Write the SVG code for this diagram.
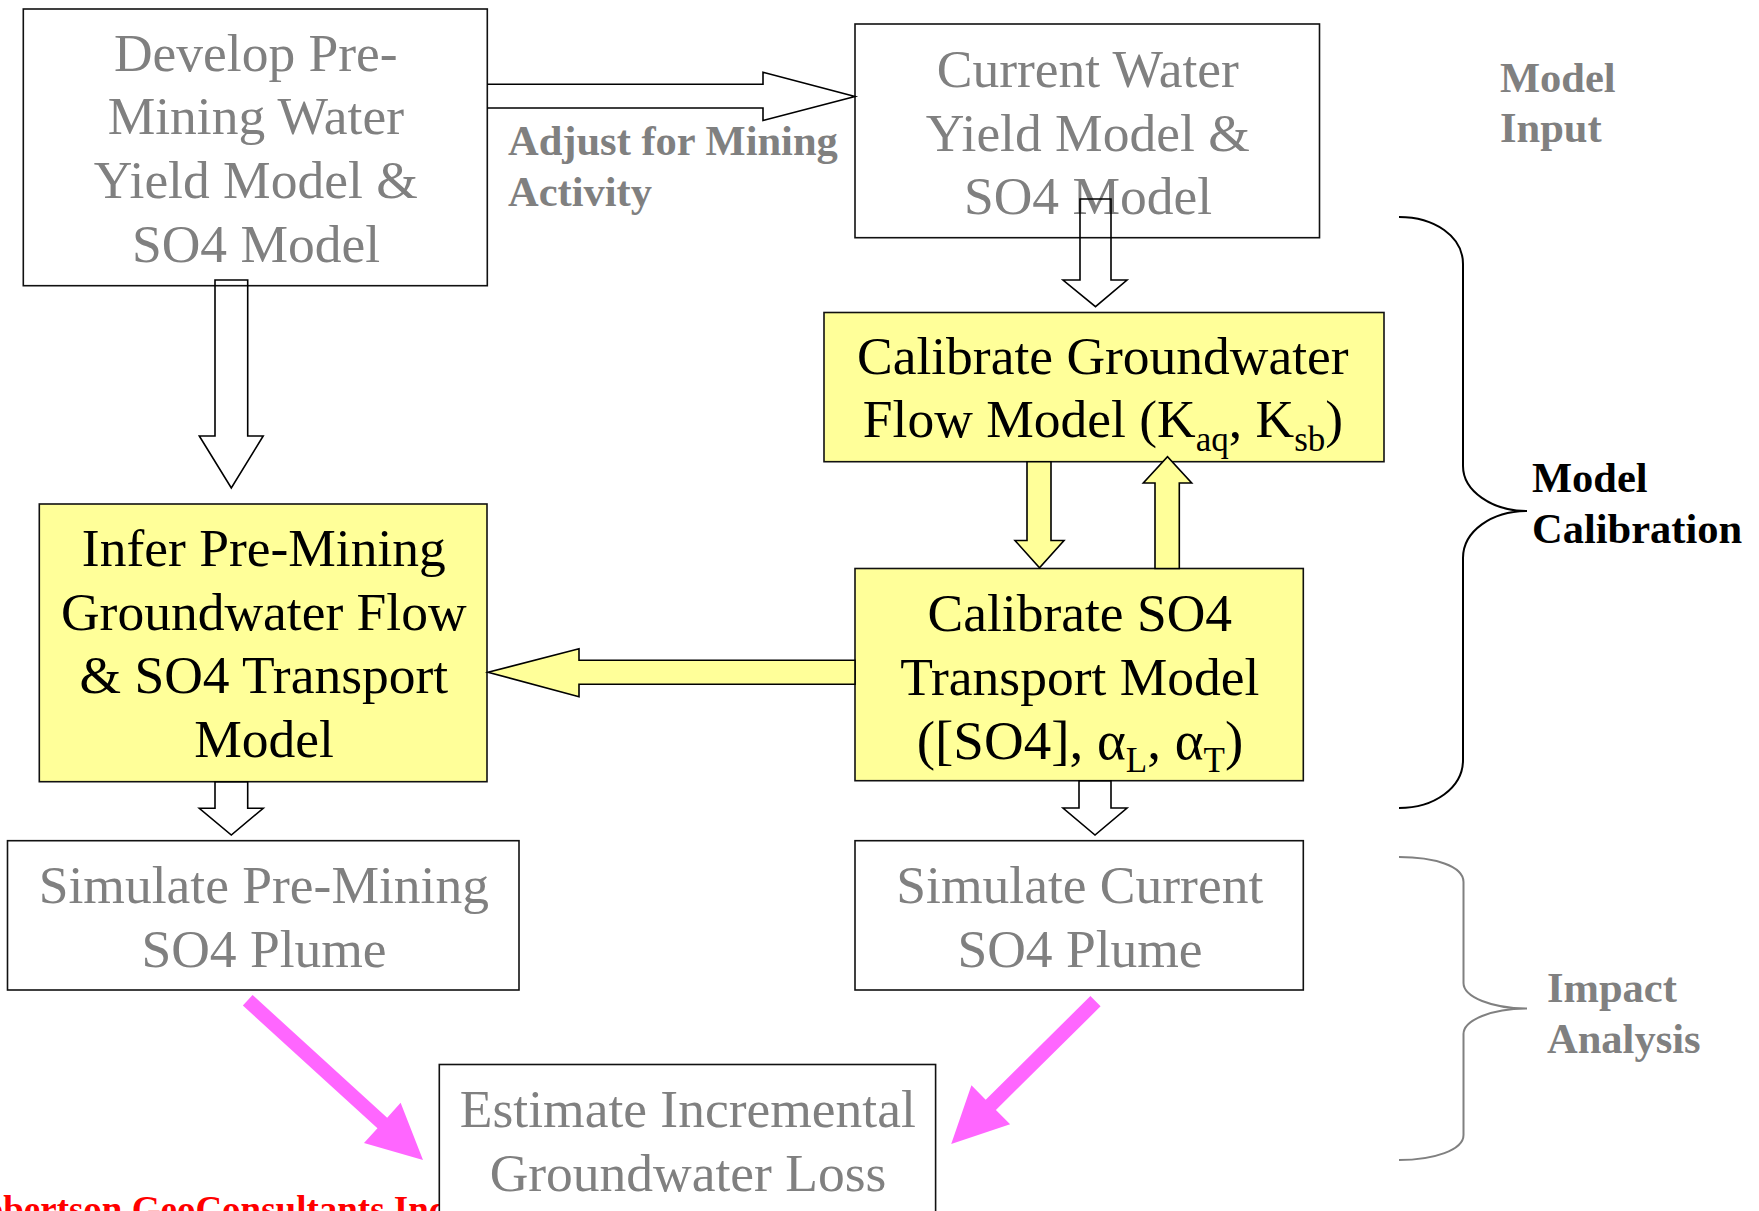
<svg xmlns="http://www.w3.org/2000/svg" width="1759" height="1211" viewBox="0 0 1759 1211">
  <style>
    .box { stroke: #111; stroke-width: 1.6; }
    .plain { fill: #ffffff; }
    .yellow { fill: #ffff99; }
    .t { font-family: "Liberation Serif", "Times New Roman", serif; font-size: 53.5px; text-anchor: middle; }
    .grey { fill: #808080; }
    .black { fill: #000000; }
    .sub { font-size: 35px; }
    .label { font-family: "Liberation Serif", "Times New Roman", serif; font-size: 42.5px; font-weight: bold; }
    .hollow { fill: none; stroke: #000; stroke-width: 1.6; stroke-linejoin: miter; }
    .fat { fill: #ffff99; stroke: #000; stroke-width: 1.6; }
    .pink { fill: #ff66ff; }
    .brace { fill: none; stroke-width: 2; }
  </style>

  <!-- company credit, partly hidden behind the bottom box -->
  <text x="-42" y="1221.5" font-family="Liberation Serif, Times New Roman, serif" font-size="37" font-weight="bold" fill="#ff0000">Robertson GeoConsultants Inc.</text>

  <!-- wrapped lines sit half a space right of the closing line -->
  <g id="node-develop">
    <rect class="box plain" x="23.3" y="9" width="464" height="276.7"/>
    <text class="t grey">
      <tspan x="262.5" y="70.7">Develop Pre-</tspan>
      <tspan x="262.5" y="134.3">Mining Water</tspan>
      <tspan x="262.5" y="198.3">Yield Model &amp;</tspan>
      <tspan x="256" y="261.7">SO4 Model</tspan>
    </text>
  </g>

  <g id="node-current">
    <rect class="box plain" x="855" y="24" width="464.5" height="213.7"/>
    <text class="t grey">
      <tspan x="1094.5" y="87">Current Water</tspan>
      <tspan x="1094.5" y="151">Yield Model &amp;</tspan>
      <tspan x="1088" y="214">SO4 Model</tspan>
    </text>
  </g>

  <g id="node-calib-flow">
    <rect class="box yellow" x="824" y="312.5" width="560" height="149.2"/>
    <text class="t black">
      <tspan x="1109.5" y="374">Calibrate Groundwater</tspan>
      <tspan x="1103" y="437.3">Flow Model (K<tspan class="sub" dy="14">aq</tspan><tspan dy="-14">, K</tspan><tspan class="sub" dy="14">sb</tspan><tspan dy="-14">)</tspan></tspan>
    </text>
  </g>

  <g id="node-infer">
    <rect class="box yellow" x="39.3" y="504" width="447.7" height="277.7"/>
    <text class="t black">
      <tspan x="270.5" y="566">Infer Pre-Mining</tspan>
      <tspan x="270.5" y="630">Groundwater Flow</tspan>
      <tspan x="270.5" y="693.3">&amp; SO4 Transport</tspan>
      <tspan x="264" y="756.7">Model</tspan>
    </text>
  </g>

  <g id="node-calib-so4">
    <rect class="box yellow" x="855" y="568.5" width="448.3" height="212.2"/>
    <text class="t black">
      <tspan x="1086.5" y="630.7">Calibrate SO4</tspan>
      <tspan x="1086.5" y="695">Transport Model</tspan>
      <tspan x="1080" y="759.3" font-size="55">([SO4], α<tspan class="sub" dy="13">L</tspan><tspan dy="-13">, α</tspan><tspan class="sub" dy="13">T</tspan><tspan dy="-13">)</tspan></tspan>
    </text>
  </g>

  <g id="node-sim-pre">
    <rect class="box plain" x="7.5" y="840.7" width="511.5" height="149.3"/>
    <text class="t grey">
      <tspan x="270.5" y="902.7">Simulate Pre-Mining</tspan>
      <tspan x="264" y="966.7">SO4 Plume</tspan>
    </text>
  </g>

  <g id="node-sim-current">
    <rect class="box plain" x="855" y="840.7" width="448.3" height="149.3"/>
    <text class="t grey">
      <tspan x="1086.5" y="902.7">Simulate Current</tspan>
      <tspan x="1080" y="966.7">SO4 Plume</tspan>
    </text>
  </g>

  <g id="node-estimate">
    <rect class="box plain" x="439.3" y="1064.5" width="496.3" height="200"/>
    <text class="t grey">
      <tspan x="694.5" y="1127">Estimate Incremental</tspan>
      <tspan x="688" y="1190.5">Groundwater Loss</tspan>
    </text>
  </g>

  <g id="connectors">
    <!-- hollow block arrows -->
    <path class="hollow" d="M487.3,84.3 H763 V72.3 L855,96.5 L763,120.5 V108 H487.3"/>
    <path class="hollow" d="M215,280 H247.7 V436 H263.2 L231.3,488 L199.3,436 H215 Z"/>
    <path class="hollow" d="M1080,199 H1111 V280 H1127 L1095.5,306.7 L1063,280 H1080 Z"/>
    <path class="hollow" d="M215,781.7 H247.7 V808.3 H263.2 L231.3,835 L199.3,808.3 H215 Z"/>
    <path class="hollow" d="M1079,780.7 H1111 V808 H1127 L1095,835 L1063,808 H1079 Z"/>

    <!-- calibration loop and hand-off -->
    <path class="fat" d="M1027,461.7 H1051 V540.5 H1064 L1039.5,567.7 L1015,540.5 H1027 Z"/>
    <path class="fat" d="M1155,568.5 V483 H1143.3 L1167.5,456.7 L1191.7,483 H1179.3 V568.5 Z"/>
    <path class="fat" d="M855,660.3 H579 V648.7 L488,672.3 L579,696.7 V684.3 H855 Z"/>

    <!-- plume comparison arrows -->
    <polygon class="pink" points="252.55,994.98 387.15,1117.63 400.62,1102.84 423,1160 363.98,1143.06 377.45,1128.27 242.85,1005.6"/>
    <polygon class="pink" points="1090.4,996.05 985.69,1099.67 971.45,1085.27 951.2,1144 1010.13,1124.37 995.89,1109.97 1100.6,1006.35"/>

    <!-- stage braces -->
    <path class="brace" stroke="#000" d="M1399,217 C1434,217 1463,236 1463,264 L1463,466 C1463,491 1492,511 1527,511 C1492,511 1463,531 1463,558 L1463,760 C1463,788 1434,808 1399,808"/>
    <path class="brace" stroke="#808080" d="M1399,857 C1434,857 1463.5,866 1463.5,882 L1463.5,983 C1463.5,997 1492,1008.5 1527,1008.5 C1492,1008.5 1463.5,1020 1463.5,1034 L1463.5,1135 C1463.5,1150 1434,1160 1399,1160"/>
  </g>

  <g id="labels">
    <text class="label grey"><tspan x="508" y="155">Adjust for Mining</tspan><tspan x="508" y="206">Activity</tspan></text>
    <text class="label grey"><tspan x="1500" y="91.5">Model</tspan><tspan x="1500" y="142">Input</tspan></text>
    <text class="label black"><tspan x="1532" y="491.5">Model</tspan><tspan x="1532" y="542.5">Calibration</tspan></text>
    <text class="label grey"><tspan x="1547" y="1002">Impact</tspan><tspan x="1547" y="1053">Analysis</tspan></text>
  </g>
</svg>
